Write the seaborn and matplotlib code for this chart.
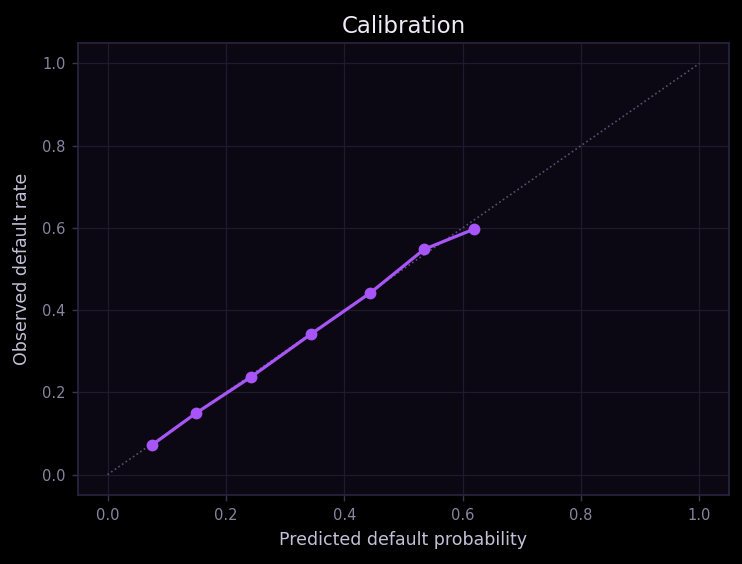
import numpy as np
import pandas as pd
import seaborn as sns
import matplotlib
matplotlib.use('Agg')
import matplotlib.pyplot as plt

# puntos de la curva de calibracion
predicted = [0.076, 0.150, 0.243, 0.344, 0.444, 0.535, 0.619]
observed = [0.073, 0.150, 0.238, 0.342, 0.442, 0.548, 0.597]
diag = [0.0, 1.0]

calib = pd.DataFrame({'pred': predicted, 'obs': observed})

sns.set_style('dark')
plt.rcParams['font.family'] = ['DejaVu Sans']

fig, ax = plt.subplots(figsize=(7.42, 5.64), dpi=100)
fig.patch.set_facecolor('#000000')
ax.set_facecolor('#0b0813')

# linea de referencia (calibracion perfecta)
ax.plot(diag, diag, linestyle=':', color='#5a5070', linewidth=1.2, zorder=1)

sns.lineplot(data=calib, x='pred', y='obs', ax=ax, color='#a855f7',
             linewidth=2.3, marker='o', markersize=8.5, markeredgewidth=0, zorder=3)

ax.set_xlim(-0.05, 1.05)
ax.set_ylim(-0.05, 1.05)
ax.set_xticks([0, 0.2, 0.4, 0.6, 0.8, 1.0])
ax.set_yticks([0, 0.2, 0.4, 0.6, 0.8, 1.0])

ax.grid(True, color='#1f1a2e', linewidth=0.9)
ax.set_axisbelow(True)
for s in ax.spines.values():
    s.set_color('#2a2540')
    s.set_linewidth(1.2)
    s.set_visible(True)

ax.tick_params(colors='#8a849f', labelsize=10.5, length=4.5, width=1, pad=4.5,
               bottom=True, left=True)
ax.tick_params(axis='both', color='#3a3450')

ax.set_title('Calibration', color='#eeeaf6', fontsize=16.5, pad=7)
ax.set_xlabel('Predicted default probability', color='#c5c0d8', fontsize=12.5, labelpad=6)
ax.set_ylabel('Observed default rate', color='#c5c0d8', fontsize=12.5, labelpad=7.5)

fig.subplots_adjust(left=0.105, right=0.9825, top=0.924, bottom=0.122)
plt.savefig('out.png', dpi=100, facecolor=fig.get_facecolor())
